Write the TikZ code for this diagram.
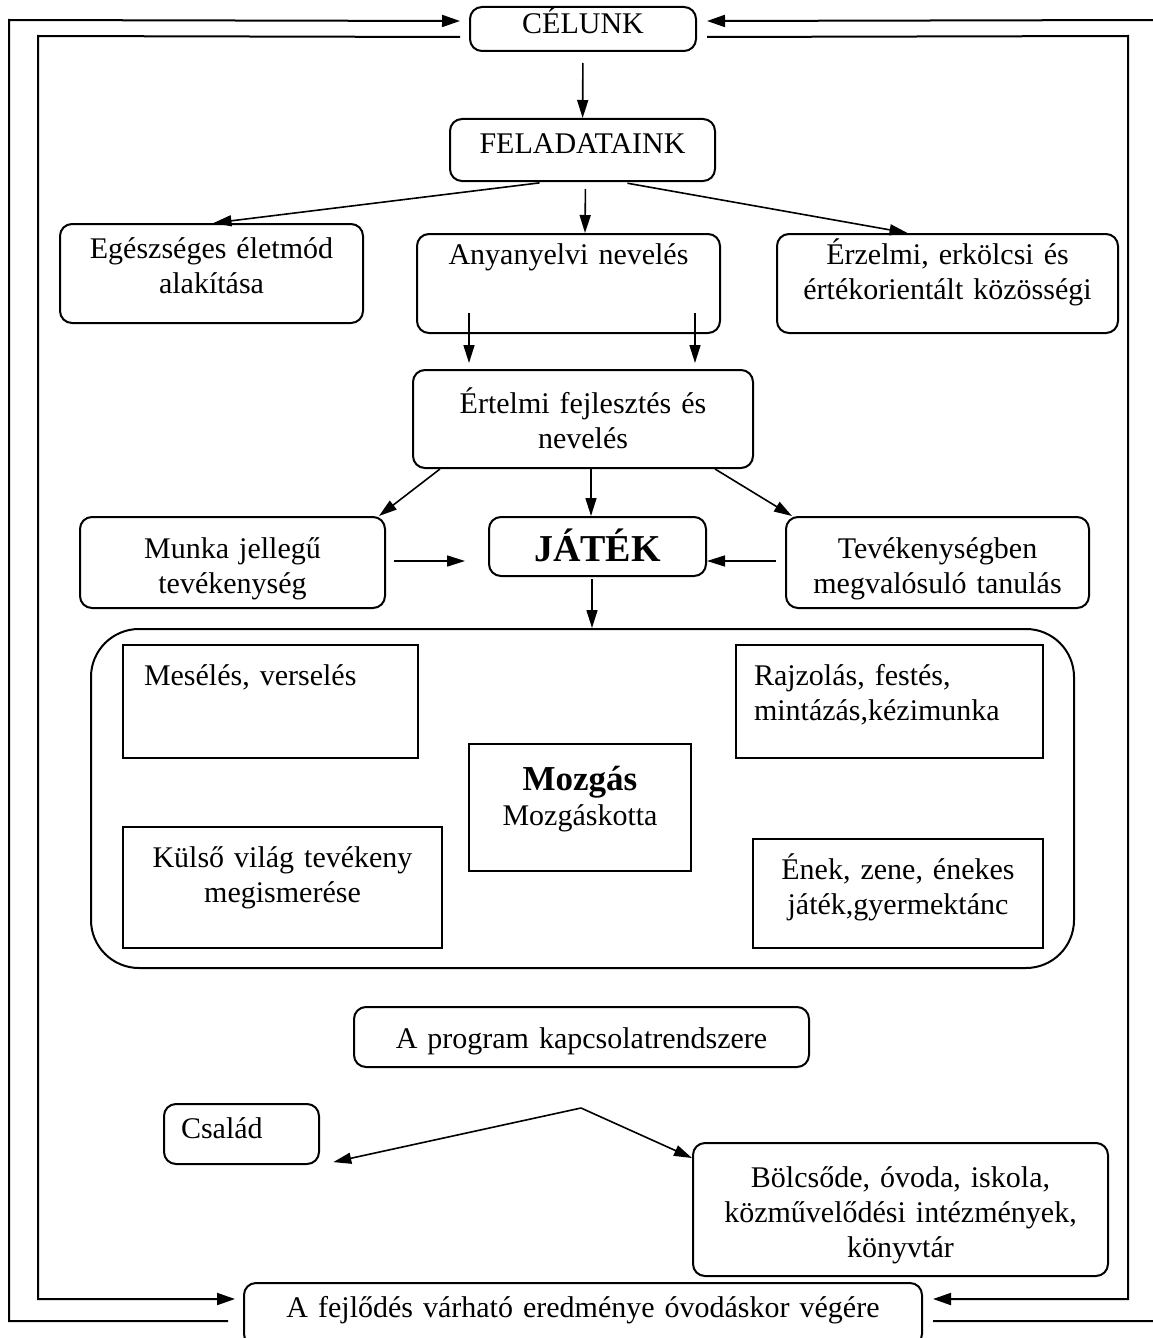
\documentclass[tikz,border=0pt]{standalone}
\usepackage{fontspec}
\setmainfont{Liberation Serif}
\usetikzlibrary{arrows.meta}
\tikzset{
  roundbox/.style={draw, line width=1pt, rounded corners=6pt, inner sep=0pt, anchor=north west, align=center},
  plainbox/.style={draw, line width=1pt, inner sep=0pt, anchor=north west, align=center},
  arr/.style={line width=0.8pt, -{Triangle[length=9pt,width=5.5pt]}},
  framearr/.style={line width=1pt, -{Triangle[length=9pt,width=6pt]}},
  every node/.style={font=\fontsize{15}{17.5}\selectfont}
}
\begin{document}
\begin{tikzpicture}[x=0.5pt, y=-0.5pt]
  \useasboundingbox (0,0) rectangle (1152,1338);
  \node[roundbox, text width=113pt, text height=13.5pt, text depth=8.5pt] (cel) at (469,6) {CÉLUNK};
  \node[roundbox, text width=132.5pt, text height=17.5pt, text depth=13.5pt] (fel) at (449,118) {FELADATAINK};
  \node[roundbox, text width=151.5pt, text height=17pt, text depth=32.5pt] (egesz) at (59,223) {Egészséges életmód\\alakítása};
  \node[roundbox, text width=151.5pt, text height=15pt, text depth=34.5pt] (anya) at (416,233) {Anyanyelvi nevelés};
  \node[roundbox, text width=170.5pt, text height=15pt, text depth=34.5pt] (erz) at (776,233) {Érzelmi, erkölcsi és\\értékorientált közösségi};
  \node[roundbox, text width=170pt, text height=21.5pt, text depth=27.5pt] (ertel) at (412,369) {Értelmi fejlesztés és\\nevelés};
  \node[roundbox, text width=152.5pt, text height=20.5pt, text depth=25pt] (munka) at (79,516) {Munka jellegű\\tevékenység};
  \node[roundbox, text width=108.5pt, text height=22pt, text depth=7.5pt, font=\fontsize{19}{22}\selectfont\bfseries] (jatek) at (488,516) {JÁTÉK};
  \node[roundbox, text width=151.5pt, text height=20.5pt, text depth=25pt] (tevek) at (785,516) {Tevékenységben\\megvalósuló tanulás};
  \node[roundbox, rounded corners=24pt, minimum width=491.5pt, minimum height=169.5pt] (jatekter) at (90,628) {};
  \node[plainbox, align=left, inner xsep=10.5pt, text width=126.5pt, text height=20pt, text depth=36.5pt] (meseles) at (122,644) {Mesélés, verselés};
  \node[plainbox, align=left, inner xsep=9pt, text width=135.5pt, text height=20pt, text depth=36.5pt] (rajz) at (735,644) {Rajzolás, festés,\\mintázás,kézimunka};
  \node[plainbox, text width=111pt, text height=23pt, text depth=40.5pt] (mozgas) at (468,743) {{\fontsize{17.5}{18.5}\selectfont\bfseries Mozgás}\\Mozgáskotta};
  \node[plainbox, text width=159.5pt, text height=20pt, text depth=40.5pt] (kulso) at (122,826) {Külső világ tevékeny\\megismerése};
  \node[plainbox, text width=145pt, text height=20pt, text depth=34.5pt] (enek) at (752,838) {Ének, zene, énekes\\játék,gyermektánc};
  \node[roundbox, text width=227.5pt, text height=20.5pt, text depth=9.5pt] (program) at (353,1006) {A program kapcsolatrendszere};
  \node[roundbox, align=left, inner xsep=8.5pt, text width=60.5pt, text height=17pt, text depth=13pt] (csalad) at (163,1103) {Család};
  \node[roundbox, text width=207.5pt, text height=22pt, text depth=44.5pt] (bolcs) at (692,1142) {Bölcsőde, óvoda, iskola,\\közművelődési intézmények,\\könyvtár};
  \node[roundbox, text width=339pt, text height=17pt, text depth=14.5pt] (fejl) at (243,1282) {A fejlődés várható eredménye óvodáskor végére};
  \coordinate (apex) at (581,1108);
  \draw[arr, shorten <=5.5pt] (cel) -- (fel);
  \draw[arr, shorten <=3.5pt] ([xshift=-18pt]fel.south) -- ([xshift=1pt]egesz.north);
  \draw[arr, shorten <=3.5pt] ([xshift=1.5pt]fel.south) -- ([xshift=8.25pt]anya.north);
  \draw[arr, shorten <=3.5pt] ([xshift=19pt]fel.south) -- ([xshift=-20pt]erz.north);
  \draw[arr, shorten >=3pt] ([xshift=-49.75pt,yshift=10.5pt]anya.south) -- ([xshift=-57pt]ertel.north);
  \draw[arr, shorten >=3pt] ([xshift=63.25pt,yshift=10.5pt]anya.south) -- ([xshift=56pt]ertel.north);
  \draw[arr] ([xshift=14pt]ertel.south west) -- ([xshift=-3.5pt]munka.north east);
  \draw[arr] ([xshift=4pt]ertel.south) -- ([xshift=-3.25pt]jatek.north);
  \draw[arr] ([xshift=-19.5pt]ertel.south east) -- ([xshift=3.5pt]tevek.north west);
  \draw[arr, shorten <=4pt, shorten >=11.5pt] ([yshift=0.75pt]munka.east) -- ([yshift=-7.25pt]jatek.west);
  \draw[arr, shorten <=4.5pt] ([yshift=0.75pt]tevek.west) -- ([yshift=-7.25pt]jatek.east);
  \draw[arr, shorten <=1pt] ([xshift=-2.75pt]jatek.south) -- ([xshift=4.75pt]jatekter.north);
  \draw[arr, shorten >=6.8pt] (apex) -- (csalad.south east);
  \draw[arr] (apex) -- ([yshift=-8pt]bolcs.north west);
  \draw[framearr] ([xshift=-7.5pt,yshift=-19.5pt]fejl.north west) -- (9,1321) -- (9,20) -- ([xshift=-4.5pt,yshift=4pt]cel.west);
  \draw[framearr] ([xshift=-4.5pt,yshift=-4pt]cel.west) -- (38,36) -- (38,1299) -- ([xshift=-4pt,yshift=-8.5pt]fejl.north west);
  \draw[framearr] ([xshift=5pt,yshift=-19.5pt]fejl.north east) -- (1155,1321) -- (1155,20) -- ([xshift=5pt,yshift=4pt]cel.east);
  \draw[framearr] ([xshift=5pt,yshift=-4pt]cel.east) -- (1128,36) -- (1128,1299) -- ([xshift=5pt,yshift=-8.5pt]fejl.north east);
\end{tikzpicture}
\end{document}
